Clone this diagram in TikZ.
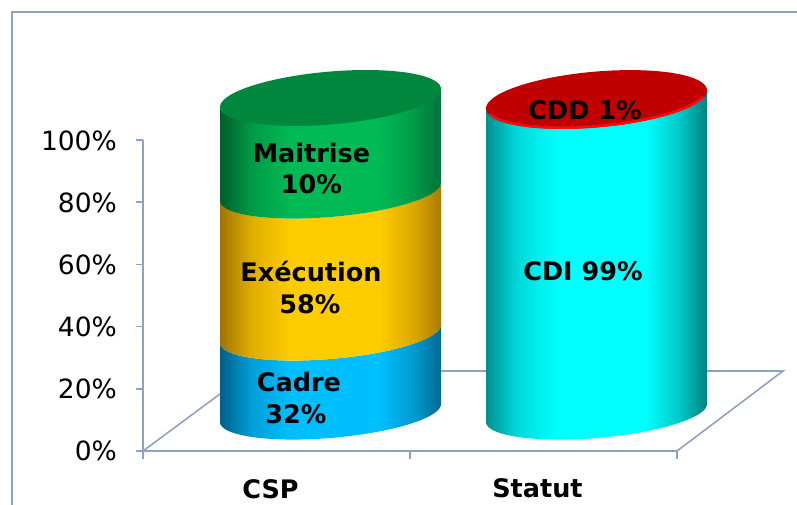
\documentclass[tikz,border=0pt]{standalone}
\usepackage{fontspec}
\setmainfont{DejaVu Sans}
\begin{document}
\begin{tikzpicture}[x=1pt,y=-1pt,
  gridline/.style={draw=axisgray,line width=1.6pt},
  ticklabel/.style={anchor=base east,inner sep=0pt,font=\fontsize{26.5}{30}\selectfont},
  barlabel/.style={anchor=base,inner sep=0pt,font=\fontsize{25.5}{30}\selectfont\bfseries},
  catlabel/.style={anchor=base,inner sep=0pt,font=\fontsize{25.5}{30}\selectfont\bfseries}]
\definecolor{axisgray}{HTML}{8FA3BF}
\definecolor{greentop}{HTML}{00873E}
\definecolor{redtop}{HTML}{C00000}
\definecolor{redrim}{HTML}{FF0A0A}
% horizontal shading used for the round sides of the cylinders
\pgfdeclarehorizontalshading[cylA,cylAB,cylB,cylBC,cylC]{cylshade}{100bp}{%
  color(0bp)=(cylA); color(25bp)=(cylA); color(32bp)=(cylAB); color(41bp)=(cylB);
  color(61bp)=(cylB); color(69bp)=(cylBC); color(75bp)=(cylC); color(100bp)=(cylC)}
% side band of a cylinder: #1 = axis x, #2 = upper rim centre y, #3 = lower rim centre y
\newcommand\cylband[3]{%
  \shade[shading=cylshade]
    plot[domain=180:0,samples=60] ({#1+110.5*cos(\x)},{#3+25*sin(\x)-9*cos(\x)})
    -- plot[domain=0:180,samples=60] ({#1+110.5*cos(\x)},{#2+25*sin(\x)-9*cos(\x)})
    -- cycle;}
\newcommand\setcyl[3]{\definecolor{cylA}{HTML}{#1}\definecolor{cylB}{HTML}{#2}\definecolor{cylC}{HTML}{#3}%
  \colorlet{cylAB}{cylA!35!cylB}\colorlet{cylBC}{cylC!45!cylB}}
% lid of a cylinder: #1 = axis x, #2 = rim centre y, #3 = half height of the lid
\newcommand\cyllid[3]{plot[domain=0:360,samples=120] ({#1+110.5*cos(\x)},{#2+#3*sin(\x)-9*cos(\x)}) -- cycle}

\useasboundingbox (0,0) rectangle (797,504);
\fill[white] (0,0) rectangle (797,504);

% outer frame
\draw[gridline] (12,510) -- (12,12) -- (800,12);

% floor of the plot area
\draw[gridline] (143,451) -- (677,451) -- (783,371) -- (251,371) -- cycle;
% value axis with its ticks
\draw[gridline] (143,140) -- (143,459);
\foreach \yy in {140,202.2,264.4,326.6,388.8,451}
  \draw[gridline] (136,\yy) -- (143,\yy);
\foreach \xx in {410,677}
  \draw[gridline] (\xx,451) -- (\xx,459);

% value labels
\node[ticklabel] (t100) at (117,150) {100\%};
\node[ticklabel] (t80)  at (117,212) {80\%};
\node[ticklabel] (t60)  at (117,274.2) {60\%};
\node[ticklabel] (t40)  at (117,336.5) {40\%};
\node[ticklabel] (t20)  at (117,398.5) {20\%};
\node[ticklabel] (t0)   at (117,460.8) {0\%};

% CSP cylinder: Cadre / Execution / Maitrise
\setcyl{006088}{00BFFF}{006A92}
\cylband{330.5}{334}{413}
\setcyl{A07400}{FFCC00}{AA7A00}
\cylband{330.5}{192}{334}
\setcyl{005E2B}{00BA55}{00723B}
\cylband{330.5}{98}{192}
\fill[greentop] \cyllid{330.5}{98}{26.5};

% Statut cylinder: CDI / CDD
\setcyl{009090}{00FFFF}{008080}
\cylband{596.5}{98}{413}
\fill[redtop] \cyllid{596.5}{99.5}{28};
\draw[redrim,line width=2.5pt] plot[domain=12:168,samples=80] ({596.5+109*cos(\x)},{99.5+26.7*sin(\x)-9*cos(\x)});

% segment labels
\node[barlabel] (maitrise) at (311.5,162) {Maitrise};
\node[barlabel] (maitrisep) at (311.5,193.3) {10\%};
\node[barlabel] (execution) at (311,281.7) {Exécution};
\node[barlabel] (executionp) at (310,313.3) {58\%};
\node[barlabel] (cadre) at (299,391.7) {Cadre};
\node[barlabel] (cadrep) at (296,423.3) {32\%};
\node[barlabel] (cdi) at (583,280) {CDI 99\%};
\node[barlabel] (cdd) at (585,119) {CDD 1\%};

% category labels
\node[catlabel] (csp) at (270.5,498.3) {CSP};
\node[catlabel] (statut) at (537.5,497) {Statut};
\end{tikzpicture}
\end{document}
